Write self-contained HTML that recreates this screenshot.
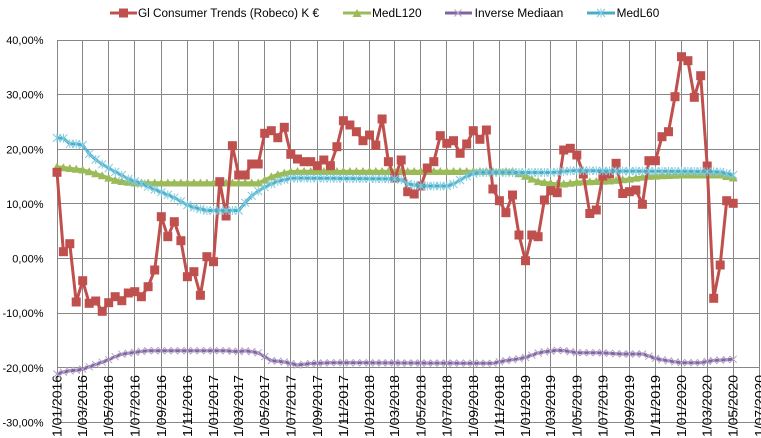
<!DOCTYPE html>
<html><head><meta charset="utf-8"><style>
html,body{margin:0;padding:0;background:#fff;}
svg{display:block;}
text{font-family:"Liberation Sans",Arial,sans-serif;fill:#000;}
</style></head><body>
<svg width="761" height="438" viewBox="0 0 761 438" xmlns="http://www.w3.org/2000/svg">
<defs>
<marker id="mr" markerUnits="userSpaceOnUse" markerWidth="10" markerHeight="10" refX="5" refY="5" overflow="visible"><rect x="0.5" y="0.5" width="9" height="9" fill="#c0504d"/></marker>
<marker id="mg" markerUnits="userSpaceOnUse" markerWidth="9" markerHeight="9" refX="4.5" refY="4.5" overflow="visible"><path d="M0,8 L4.5,0 L9,8 Z" fill="#9bbb59"/></marker>
<marker id="mp" markerUnits="userSpaceOnUse" markerWidth="8" markerHeight="8" refX="4" refY="4" overflow="visible"><path d="M0.5,0.5 L7.5,7.5 M7.5,0.5 L0.5,7.5" stroke="#b3a2c7" stroke-width="1" fill="none"/></marker>
<marker id="mc" markerUnits="userSpaceOnUse" markerWidth="9" markerHeight="9" refX="4.5" refY="4.5" overflow="visible"><path d="M0.5,0.5 L8.5,8.5 M8.5,0.5 L0.5,8.5 M4.5,0 L4.5,9" stroke="#7fcbe0" stroke-width="1" fill="none"/></marker>
</defs>
<rect width="761" height="438" fill="#fff"/>
<g stroke="#878787" stroke-width="1" shape-rendering="crispEdges">
<line x1="57" x2="760" y1="40.5" y2="40.5"/>
<line x1="57" x2="760" y1="94.5" y2="94.5"/>
<line x1="57" x2="760" y1="149.5" y2="149.5"/>
<line x1="57" x2="760" y1="203.5" y2="203.5"/>
<line x1="57" x2="760" y1="258.5" y2="258.5"/>
<line x1="57" x2="760" y1="313.5" y2="313.5"/>
<line x1="57" x2="760" y1="367.5" y2="367.5"/>
<line x1="57" x2="760" y1="422.5" y2="422.5"/>
<line x1="57.5" x2="57.5" y1="40" y2="423"/>
<line x1="82.5" x2="82.5" y1="40" y2="423"/>
<line x1="108.5" x2="108.5" y1="40" y2="423"/>
<line x1="134.5" x2="134.5" y1="40" y2="423"/>
<line x1="161.5" x2="161.5" y1="40" y2="423"/>
<line x1="187.5" x2="187.5" y1="40" y2="423"/>
<line x1="213.5" x2="213.5" y1="40" y2="423"/>
<line x1="238.5" x2="238.5" y1="40" y2="423"/>
<line x1="264.5" x2="264.5" y1="40" y2="423"/>
<line x1="290.5" x2="290.5" y1="40" y2="423"/>
<line x1="317.5" x2="317.5" y1="40" y2="423"/>
<line x1="343.5" x2="343.5" y1="40" y2="423"/>
<line x1="369.5" x2="369.5" y1="40" y2="423"/>
<line x1="394.5" x2="394.5" y1="40" y2="423"/>
<line x1="420.5" x2="420.5" y1="40" y2="423"/>
<line x1="446.5" x2="446.5" y1="40" y2="423"/>
<line x1="473.5" x2="473.5" y1="40" y2="423"/>
<line x1="499.5" x2="499.5" y1="40" y2="423"/>
<line x1="525.5" x2="525.5" y1="40" y2="423"/>
<line x1="550.5" x2="550.5" y1="40" y2="423"/>
<line x1="576.5" x2="576.5" y1="40" y2="423"/>
<line x1="602.5" x2="602.5" y1="40" y2="423"/>
<line x1="629.5" x2="629.5" y1="40" y2="423"/>
<line x1="655.5" x2="655.5" y1="40" y2="423"/>
<line x1="681.5" x2="681.5" y1="40" y2="423"/>
<line x1="707.5" x2="707.5" y1="40" y2="423"/>
<line x1="733.5" x2="733.5" y1="40" y2="423"/>
<line x1="759.5" x2="759.5" y1="40" y2="423"/>
</g>
<!-- y labels -->
<g font-size="11" text-anchor="end">
<text x="43.5" y="44">40,00%</text>
<text x="43.5" y="98.6">30,00%</text>
<text x="43.5" y="153.3">20,00%</text>
<text x="43.5" y="207.9">10,00%</text>
<text x="43.5" y="262.6">0,00%</text>
<text x="43.5" y="317.2">-10,00%</text>
<text x="43.5" y="371.8">-20,00%</text>
<text x="43.5" y="426.5">-30,00%</text>
</g>
<!-- x labels -->
<g font-size="12.5" text-anchor="end">
<text transform="translate(61.5,375) rotate(-90)" textLength="62" lengthAdjust="spacingAndGlyphs">1/01/2016</text>
<text transform="translate(87.1,375) rotate(-90)" textLength="62" lengthAdjust="spacingAndGlyphs">1/03/2016</text>
<text transform="translate(113.2,375) rotate(-90)" textLength="62" lengthAdjust="spacingAndGlyphs">1/05/2016</text>
<text transform="translate(139.3,375) rotate(-90)" textLength="62" lengthAdjust="spacingAndGlyphs">1/07/2016</text>
<text transform="translate(165.8,375) rotate(-90)" textLength="62" lengthAdjust="spacingAndGlyphs">1/09/2016</text>
<text transform="translate(191.9,375) rotate(-90)" textLength="62" lengthAdjust="spacingAndGlyphs">1/11/2016</text>
<text transform="translate(217.9,375) rotate(-90)" textLength="62" lengthAdjust="spacingAndGlyphs">1/01/2017</text>
<text transform="translate(243.2,375) rotate(-90)" textLength="62" lengthAdjust="spacingAndGlyphs">1/03/2017</text>
<text transform="translate(269.2,375) rotate(-90)" textLength="62" lengthAdjust="spacingAndGlyphs">1/05/2017</text>
<text transform="translate(295.3,375) rotate(-90)" textLength="62" lengthAdjust="spacingAndGlyphs">1/07/2017</text>
<text transform="translate(321.8,375) rotate(-90)" textLength="62" lengthAdjust="spacingAndGlyphs">1/09/2017</text>
<text transform="translate(347.9,375) rotate(-90)" textLength="62" lengthAdjust="spacingAndGlyphs">1/11/2017</text>
<text transform="translate(374,375) rotate(-90)" textLength="62" lengthAdjust="spacingAndGlyphs">1/01/2018</text>
<text transform="translate(399.2,375) rotate(-90)" textLength="62" lengthAdjust="spacingAndGlyphs">1/03/2018</text>
<text transform="translate(425.3,375) rotate(-90)" textLength="62" lengthAdjust="spacingAndGlyphs">1/05/2018</text>
<text transform="translate(451.3,375) rotate(-90)" textLength="62" lengthAdjust="spacingAndGlyphs">1/07/2018</text>
<text transform="translate(477.8,375) rotate(-90)" textLength="62" lengthAdjust="spacingAndGlyphs">1/09/2018</text>
<text transform="translate(503.9,375) rotate(-90)" textLength="62" lengthAdjust="spacingAndGlyphs">1/11/2018</text>
<text transform="translate(530,375) rotate(-90)" textLength="62" lengthAdjust="spacingAndGlyphs">1/01/2019</text>
<text transform="translate(555.2,375) rotate(-90)" textLength="62" lengthAdjust="spacingAndGlyphs">1/03/2019</text>
<text transform="translate(581.3,375) rotate(-90)" textLength="62" lengthAdjust="spacingAndGlyphs">1/05/2019</text>
<text transform="translate(607.3,375) rotate(-90)" textLength="62" lengthAdjust="spacingAndGlyphs">1/07/2019</text>
<text transform="translate(633.9,375) rotate(-90)" textLength="62" lengthAdjust="spacingAndGlyphs">1/09/2019</text>
<text transform="translate(659.9,375) rotate(-90)" textLength="62" lengthAdjust="spacingAndGlyphs">1/11/2019</text>
<text transform="translate(686,375) rotate(-90)" textLength="62" lengthAdjust="spacingAndGlyphs">1/01/2020</text>
<text transform="translate(711.7,375) rotate(-90)" textLength="62" lengthAdjust="spacingAndGlyphs">1/03/2020</text>
<text transform="translate(737.7,375) rotate(-90)" textLength="62" lengthAdjust="spacingAndGlyphs">1/05/2020</text>
<text transform="translate(763.8,375) rotate(-90)" textLength="62" lengthAdjust="spacingAndGlyphs">1/07/2020</text>
</g>
<!-- MedL120 -->
<polyline fill="none" stroke="#9bbb59" stroke-width="3.5" stroke-linejoin="round" marker-start="url(#mg)" marker-mid="url(#mg)" marker-end="url(#mg)" points="57,167 63.4,167.7 69.8,168.5 76.2,169.2 82.7,170 89.2,171.8 95.7,173.7 102.2,175.8 108.7,178.1 115.2,180.4 121.8,181.5 128.3,182.3 134.8,183 141.4,183 148.1,183 154.7,183 161.3,183 167.8,183 174.3,183 180.9,183 187.4,183 193.9,183 200.4,183 206.9,183 213.5,183 219.8,183 226.1,183 232.4,183 238.7,183 245.2,183 251.7,183 258.2,183 264.7,180.1 271.3,176.9 277.8,174.7 284.3,173.1 290.8,171.7 297.5,171.5 304.1,171.5 310.7,171.5 317.3,171.5 323.8,171.5 330.4,171.5 336.9,171.5 343.4,171.5 349.9,171.5 356.4,171.5 363,171.5 369.5,171.5 375.8,171.5 382.1,171.5 388.4,171.5 394.7,171.5 401.2,171.5 407.7,171.5 414.2,171.5 420.8,171.5 427.3,171.5 433.8,171.5 440.3,171.5 446.8,171.5 453.5,171.5 460.1,171.5 466.7,171.5 473.3,171.5 479.9,171.5 486.4,171.5 492.9,171.5 499.4,171.5 505.9,171.5 512.5,171.5 519,173.8 525.5,176.2 531.8,179.1 538.1,181.6 544.4,182.5 550.7,183.3 557.2,184.1 563.7,184 570.3,183.2 576.8,182.4 583.3,181.9 589.8,181.7 596.3,181.5 602.9,181.2 609.5,181 616.1,180.4 622.7,179.7 629.4,179.1 635.9,178.1 642.4,177.2 648.9,176.4 655.4,176.1 662,175.8 668.5,175.5 675,175.2 681.5,175 687.9,175 694.3,175 700.7,175 707.2,175 713.7,175 720.2,175 726.7,176.5 733.2,178"/>
<!-- Gl Consumer Trends -->
<polyline fill="none" stroke="#c0504d" stroke-width="3" stroke-linejoin="round" marker-start="url(#mr)" marker-mid="url(#mr)" marker-end="url(#mr)" points="57,172.3 63.4,251.7 69.8,243.7 76.2,302 82.7,280.7 89.2,303.3 95.7,301 102.2,311.3 108.7,302.7 115.2,296.7 121.8,300.7 128.3,293 134.8,291.7 141.4,296.7 148.1,286.7 154.7,270 161.3,216.7 167.8,236.7 174.3,221.7 180.9,240.7 187.4,276.7 193.9,271.7 200.4,295.3 206.9,256.7 213.5,261.7 219.8,181.7 226.1,216 232.4,145.7 238.7,175 245.2,175 251.7,164 258.2,164 264.7,133.3 271.3,130.7 277.8,137.7 284.3,127.3 290.8,154.3 297.5,159 304.1,161.7 310.7,161.7 317.3,165.7 323.8,160 330.4,165.7 336.9,146.7 343.4,120.7 349.9,125 356.4,131.7 363,140.7 369.5,135 375.8,145.3 382.1,119 388.4,161.7 394.7,178 401.2,160 407.7,191.7 414.2,194 420.8,186 427.3,168 433.8,161.7 440.3,135.7 446.8,143.3 453.5,140.7 460.1,153.3 466.7,144 473.3,130.7 479.9,139.3 486.4,130 492.9,189 499.4,200.7 505.9,212.7 512.5,195 519,235 525.5,260.7 531.8,235 538.1,236.7 544.4,200 550.7,190.7 557.2,192.7 563.7,150 570.3,148.3 576.8,155 583.3,174 589.8,213.5 596.3,210 602.9,176 609.5,174 616.1,163.3 622.7,193.5 629.4,191.7 635.9,190 642.4,204.3 648.9,160.7 655.4,160.7 662,136.7 668.5,131.7 675,96.7 681.5,56.7 687.9,60.7 694.3,97.3 700.7,75.7 707.2,166 713.7,298.3 720.2,265 726.7,200.7 733.2,203.3"/>
<!-- Inverse Mediaan -->
<polyline fill="none" stroke="#8064a2" stroke-width="3" stroke-linejoin="round" marker-start="url(#mp)" marker-mid="url(#mp)" marker-end="url(#mp)" points="57,374 63.4,372.1 69.8,370.8 76.2,370.3 82.7,369.1 89.2,366.8 95.7,364.5 102.2,362.2 108.7,359.7 115.2,356.7 121.8,354.2 128.3,353.2 134.8,352.3 141.4,351.4 148.1,350.7 154.7,350.7 161.3,350.7 167.8,350.7 174.3,350.7 180.9,350.7 187.4,350.7 193.9,350.7 200.4,350.7 206.9,350.7 213.5,350.7 219.8,350.7 226.1,350.7 232.4,351.2 238.7,351.5 245.2,350.9 251.7,351.6 258.2,352.9 264.7,356.7 271.3,360.6 277.8,361.2 284.3,362 290.8,363.5 297.5,365 304.1,364.3 310.7,363.5 317.3,363.2 323.8,363 330.4,362.8 336.9,362.7 343.4,362.7 349.9,362.8 356.4,362.8 363,362.8 369.5,362.8 375.8,362.9 382.1,362.9 388.4,362.9 394.7,362.9 401.2,363 407.7,363 414.2,363 420.8,363 427.3,363.1 433.8,363.1 440.3,363.1 446.8,363.1 453.5,363.1 460.1,363.2 466.7,363.2 473.3,363.2 479.9,363.2 486.4,363.3 492.9,363.3 499.4,361.8 505.9,360.6 512.5,359.7 519,358.8 525.5,357.4 531.8,355.2 538.1,353 544.4,351.8 550.7,351.1 557.2,350.3 563.7,350.6 570.3,351.6 576.8,352.7 583.3,352.7 589.8,352.7 596.3,352.7 602.9,352.9 609.5,353.3 616.1,353.7 622.7,354 629.4,354 635.9,354 642.4,354 648.9,356.1 655.4,358.4 662,359.8 668.5,360.8 675,361.9 681.5,362.7 687.9,362.7 694.3,362.7 700.7,362.7 707.2,361.5 713.7,360.5 720.2,360.1 726.7,359.7 733.2,359.3"/>
<!-- MedL60 -->
<polyline fill="none" stroke="#4bacc6" stroke-width="3" stroke-linejoin="round" marker-start="url(#mc)" marker-mid="url(#mc)" marker-end="url(#mc)" points="57,138 63.4,138.3 69.8,143.8 76.2,144 82.7,145 89.2,153.9 95.7,159.6 102.2,164.3 108.7,168.1 115.2,171.9 121.8,175.1 128.3,179.1 134.8,181.4 141.4,183.6 148.1,186.6 154.7,189.5 161.3,192.2 167.8,194.9 174.3,197.7 180.9,201.4 187.4,205.1 193.9,207.4 200.4,209 206.9,210.5 213.5,210.5 219.8,210.5 226.1,210.5 232.4,210.5 238.7,210.5 245.2,202.7 251.7,195.8 258.2,191.1 264.7,187.2 271.3,183.9 277.8,181.3 284.3,179.8 290.8,178.3 297.5,178.1 304.1,178.1 310.7,178.2 317.3,178.2 323.8,178.3 330.4,178.3 336.9,178.4 343.4,178.5 349.9,178.5 356.4,178.6 363,178.6 369.5,178.7 375.8,178.8 382.1,178.8 388.4,178.9 394.7,178.9 401.2,179.8 407.7,183.8 414.2,185 420.8,186 427.3,186 433.8,186 440.3,186 446.8,186 453.5,184 460.1,180.1 466.7,176.2 473.3,173.7 479.9,172.5 486.4,172.5 492.9,172.5 499.4,172.5 505.9,172.5 512.5,172.5 519,172.5 525.5,172.5 531.8,172.5 538.1,172.5 544.4,172.5 550.7,172.5 557.2,172.1 563.7,171.4 570.3,170.8 576.8,170.6 583.3,170.6 589.8,170.7 596.3,170.8 602.9,170.9 609.5,171 616.1,171 622.7,171.1 629.4,171.1 635.9,171.1 642.4,171.2 648.9,171.2 655.4,171.2 662,171.3 668.5,171.3 675,171.4 681.5,171.4 687.9,171.4 694.3,171.5 700.7,171.5 707.2,171.7 713.7,171.8 720.2,172 726.7,173.5 733.2,175"/>
<!-- legend -->
<line x1="110" y1="13" x2="137" y2="13" stroke="#c0504d" stroke-width="3"/>
<rect x="119" y="8.5" width="9" height="9" fill="#c0504d"/>
<text x="138" y="17" font-size="11.5" textLength="181" lengthAdjust="spacingAndGlyphs">Gl Consumer Trends (Robeco) K €</text>
<line x1="343" y1="13" x2="371" y2="13" stroke="#9bbb59" stroke-width="3"/>
<path d="M352.5,17 L357,9 L361.5,17 Z" fill="#9bbb59"/>
<text x="372" y="17" font-size="11.5" textLength="49.7" lengthAdjust="spacingAndGlyphs">MedL120</text>
<line x1="445" y1="13" x2="472" y2="13" stroke="#8064a2" stroke-width="3"/>
<path d="M454.5,9.5 L461.5,16.5 M461.5,9.5 L454.5,16.5" stroke="#b3a2c7" stroke-width="1"/>
<text x="474.7" y="17" font-size="11.5" textLength="88.6" lengthAdjust="spacingAndGlyphs">Inverse Mediaan</text>
<line x1="587" y1="13" x2="615" y2="13" stroke="#4bacc6" stroke-width="3"/>
<path d="M597,9 L605,17 M605,9 L597,17 M601,8.5 L601,17.5" stroke="#7fcbe0" stroke-width="1"/>
<text x="616.7" y="17" font-size="11.5" textLength="42.6" lengthAdjust="spacingAndGlyphs">MedL60</text>
</svg>
</body></html>
